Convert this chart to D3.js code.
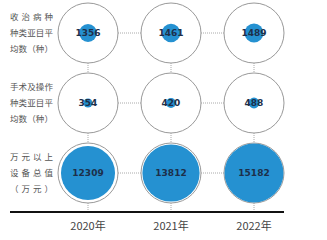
<!DOCTYPE html>
<html>
<head>
<meta charset="utf-8">
<script src="https://cdn.jsdelivr.net/npm/d3@7"></script>
<style>
  body { margin: 0; background: #fff; }
  svg { display: block; font-family: "Noto Sans CJK SC", "Noto Sans", sans-serif; }
</style>
</head>
<body>
<div id="chart"></div>
<script>
// data
const years = ["2020年", "2021年", "2022年"];
const metrics = ["disease", "surgery", "equipment"];
const metricLabels = [
    ["收治病种", "种类亚目平", "均数（种）"],
    ["手术及操作", "种类亚目平", "均数（种）"],
    ["万元以上", "设备总值", "（万元）"]
];
const diseaseValues = [1356, 1461, 1489];
const surgeryValues = [354, 420, 488];
const equipmentValues = [12309, 13812, 15182];
const allValues = [diseaseValues, surgeryValues, equipmentValues];

// constants
const w = 327;
const h = 240;
const outerR = 30;

const svg = d3.select("#chart").append("svg")
    .attr("width", w)
    .attr("height", h);

const xScale = d3.scalePoint()
    .domain(years)
    .range([88, 254]);
const yScale = d3.scalePoint()
    .domain(metrics)
    .range([33, 173]);
const rScale = d3.scaleSqrt()
    .domain([0, d3.max(equipmentValues)])
    .range([0, outerR]);

const cells = [];
metrics.forEach((m, i) => {
    years.forEach((yr, j) => {
        cells.push({ metric: m, year: yr, value: allValues[i][j] });
    });
});

// dotted connectors
const conn = svg.append("g")
    .attr("stroke", "#aaa")
    .attr("stroke-width", 1)
    .attr("stroke-dasharray", "1,1");
metrics.forEach(m => {
    for (let j = 0; j < years.length - 1; j++) {
        conn.append("line")
            .attr("x1", xScale(years[j]) + outerR)
            .attr("x2", xScale(years[j + 1]) - outerR)
            .attr("y1", yScale(m))
            .attr("y2", yScale(m));
    }
});
years.forEach(yr => {
    for (let i = 0; i < metrics.length - 1; i++) {
        conn.append("line")
            .attr("x1", xScale(yr))
            .attr("x2", xScale(yr))
            .attr("y1", yScale(metrics[i]) + outerR)
            .attr("y2", yScale(metrics[i + 1]) - outerR);
    }
    conn.append("line")
        .attr("x1", xScale(yr))
        .attr("x2", xScale(yr))
        .attr("y1", yScale(metrics[2]) + outerR)
        .attr("y2", 212);
});

// outer rings
svg.selectAll("circle.outer")
    .data(cells)
    .enter()
    .append("circle")
    .attr("class", "outer")
    .attr("cx", d => xScale(d.year))
    .attr("cy", d => yScale(d.metric))
    .attr("r", outerR)
    .attr("fill", "#fff")
    .attr("stroke", "#999")
    .attr("stroke-width", 1);

// value circles
svg.selectAll("circle.value")
    .data(cells)
    .enter()
    .append("circle")
    .attr("class", "value")
    .attr("cx", d => xScale(d.year))
    .attr("cy", d => yScale(d.metric))
    .attr("r", d => Math.min(rScale(d.value), outerR - 0.5))
    .attr("fill", "#2591d1");

// value labels
svg.selectAll("text.value")
    .data(cells)
    .enter()
    .append("text")
    .attr("class", "value")
    .attr("x", d => xScale(d.year))
    .attr("y", d => yScale(d.metric))
    .attr("dy", "0.35em")
    .attr("text-anchor", "middle")
    .attr("font-family", "'DejaVu Sans', sans-serif")
    .attr("font-size", 9)
    .attr("font-weight", "bold")
    .attr("fill", "#1d2f4a")
    .text(d => d.value);

// row labels
metrics.forEach((m, i) => {
    const t = svg.append("text")
        .attr("font-size", 8.5)
        .attr("fill", "#555");
    metricLabels[i].forEach((line, k) => {
        t.append("tspan")
            .attr("x", 10)
            .attr("y", yScale(m) - 16 + k * 16)
            .attr("dy", "0.35em")
            .attr("textLength", 43)
            .attr("lengthAdjust", "spacing")
            .text(line);
    });
});

// x axis
svg.append("line")
    .attr("x1", 10)
    .attr("x2", 284)
    .attr("y1", 212)
    .attr("y2", 212)
    .attr("stroke", "#111")
    .attr("stroke-width", 2);

svg.selectAll("text.year")
    .data(years)
    .enter()
    .append("text")
    .attr("class", "year")
    .attr("x", d => xScale(d))
    .attr("y", 226)
    .attr("dy", "0.35em")
    .attr("text-anchor", "middle")
    .attr("font-size", 11)
    .attr("fill", "#444")
    .text(d => d);
</script>
</body>
</html>
